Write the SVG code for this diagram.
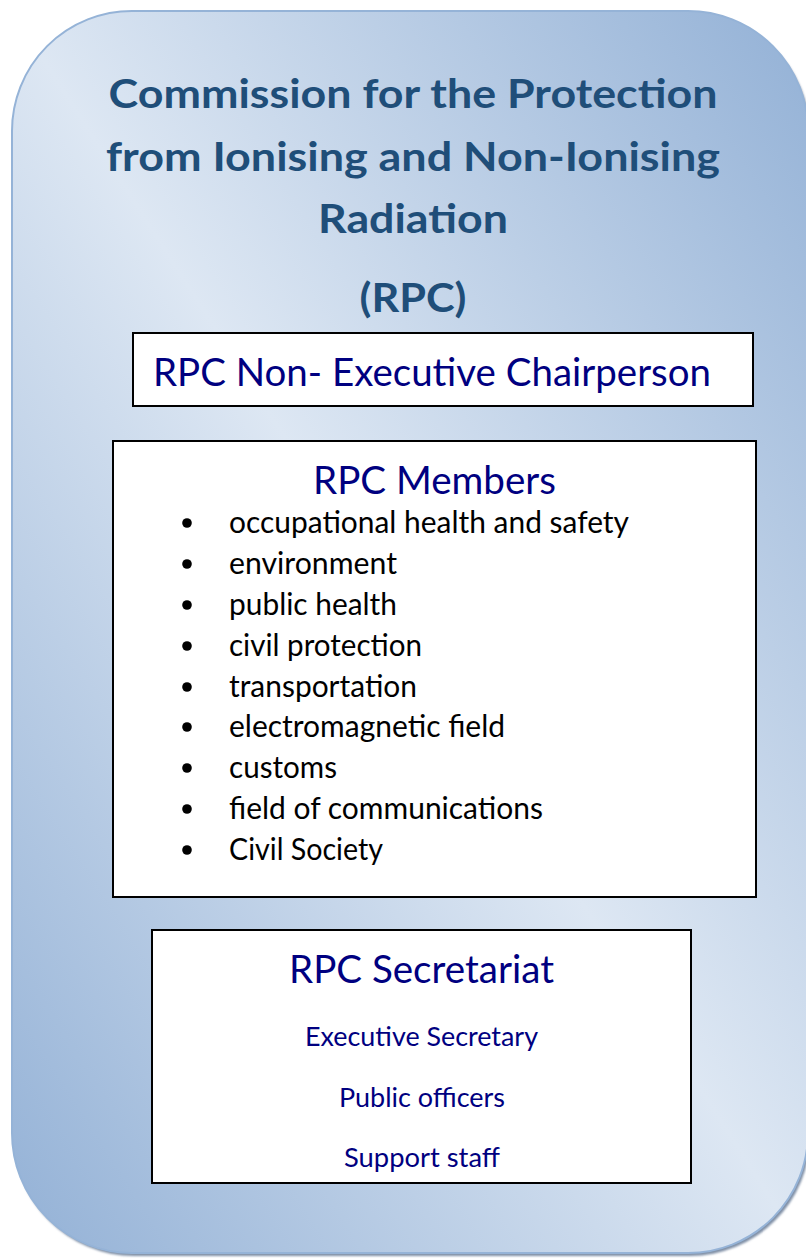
<svg xmlns="http://www.w3.org/2000/svg" width="806" height="1259" viewBox="0 0 806 1259">
  <style>
    .title { font-family: Lato, "Open Sans", "Liberation Sans", sans-serif; font-weight: 700; font-size: 40.5px; fill: #1f4e79; text-anchor: middle; }
    .box { fill: #ffffff; stroke: #000000; stroke-width: 2; }
    .head { font-family: Lato, "Open Sans", "Liberation Sans", sans-serif; font-size: 39px; fill: #000080; }
    .item { font-family: Lato, "Open Sans", "Liberation Sans", sans-serif; font-size: 30px; fill: #000000; }
    .sub { font-family: Lato, "Open Sans", "Liberation Sans", sans-serif; font-size: 26.5px; fill: #000080; text-anchor: middle; }
    .bullet { fill: #000000; }
  </style>
  <defs>
    <!-- reflected gradient: dark at the top-right and bottom-left corners, light along the main diagonal -->
    <linearGradient id="panelFill" gradientUnits="userSpaceOnUse" x1="-155" y1="992" x2="973" y2="272">
      <stop offset="0" stop-color="#93b1d6"/>
      <stop offset="0.5" stop-color="#dde7f3"/>
      <stop offset="1" stop-color="#93b1d6"/>
    </linearGradient>
    <filter id="soft" x="-5%" y="-5%" width="110%" height="110%">
      <feGaussianBlur stdDeviation="1.2"/>
    </filter>
  </defs>

  <!-- rounded background panel with drop shadow -->
  <g id="panel">
    <rect x="14" y="14" width="796" height="1242" rx="120" ry="120" fill="#7f8fa6" filter="url(#soft)"/>
    <rect x="12" y="11" width="796" height="1242" rx="120" ry="120" fill="url(#panelFill)" stroke="#95b3d7" stroke-width="2"/>
  </g>

  <g id="title">
    <text class="title" x="413" y="108" textLength="609" lengthAdjust="spacingAndGlyphs">Commission for the Protection</text>
    <text class="title" x="413" y="170.5" textLength="614" lengthAdjust="spacingAndGlyphs">from Ionising and Non-Ionising</text>
    <text class="title" x="413" y="233" textLength="190" lengthAdjust="spacingAndGlyphs">Radiation</text>
    <text class="title" x="413" y="312" textLength="107" lengthAdjust="spacingAndGlyphs">(RPC)</text>
  </g>

  <g id="chairperson">
    <rect class="box" x="133" y="333" width="620" height="73"/>
    <text class="head" x="153" y="386" textLength="558" lengthAdjust="spacingAndGlyphs">RPC Non- Executive Chairperson</text>
  </g>

  <g id="members">
    <rect class="box" x="113" y="441" width="643" height="456"/>
    <text class="head" x="434.5" y="494" text-anchor="middle" textLength="243" lengthAdjust="spacingAndGlyphs">RPC Members</text>
    <circle class="bullet" cx="187" cy="523" r="4.8"/>
    <text class="item" x="229" y="533" textLength="400" lengthAdjust="spacingAndGlyphs">occupational health and safety</text>
    <circle class="bullet" cx="187" cy="564" r="4.8"/>
    <text class="item" x="229" y="574" textLength="168" lengthAdjust="spacingAndGlyphs">environment</text>
    <circle class="bullet" cx="187" cy="605" r="4.8"/>
    <text class="item" x="229" y="615" textLength="168" lengthAdjust="spacingAndGlyphs">public health</text>
    <circle class="bullet" cx="187" cy="646" r="4.8"/>
    <text class="item" x="229" y="656" textLength="193" lengthAdjust="spacingAndGlyphs">civil protection</text>
    <circle class="bullet" cx="187" cy="687" r="4.8"/>
    <text class="item" x="229" y="697" textLength="188" lengthAdjust="spacingAndGlyphs">transportation</text>
    <circle class="bullet" cx="187" cy="727" r="4.8"/>
    <text class="item" x="229" y="737" textLength="276" lengthAdjust="spacingAndGlyphs">electromagnetic field</text>
    <circle class="bullet" cx="187" cy="768" r="4.8"/>
    <text class="item" x="229" y="778" textLength="108" lengthAdjust="spacingAndGlyphs">customs</text>
    <circle class="bullet" cx="187" cy="809" r="4.8"/>
    <text class="item" x="229" y="819" textLength="314" lengthAdjust="spacingAndGlyphs">field of communications</text>
    <circle class="bullet" cx="187" cy="850" r="4.8"/>
    <text class="item" x="229" y="860" textLength="154" lengthAdjust="spacingAndGlyphs">Civil Society</text>
  </g>

  <g id="secretariat">
    <rect class="box" x="152" y="930" width="539" height="253"/>
    <text class="head" x="421.5" y="983" text-anchor="middle" textLength="265" lengthAdjust="spacingAndGlyphs">RPC Secretariat</text>
    <text class="sub" x="421.5" y="1046" textLength="233" lengthAdjust="spacingAndGlyphs">Executive Secretary</text>
    <text class="sub" x="422" y="1107" textLength="166" lengthAdjust="spacingAndGlyphs">Public officers</text>
    <text class="sub" x="422" y="1167" textLength="156" lengthAdjust="spacingAndGlyphs">Support staff</text>
  </g>
</svg>
